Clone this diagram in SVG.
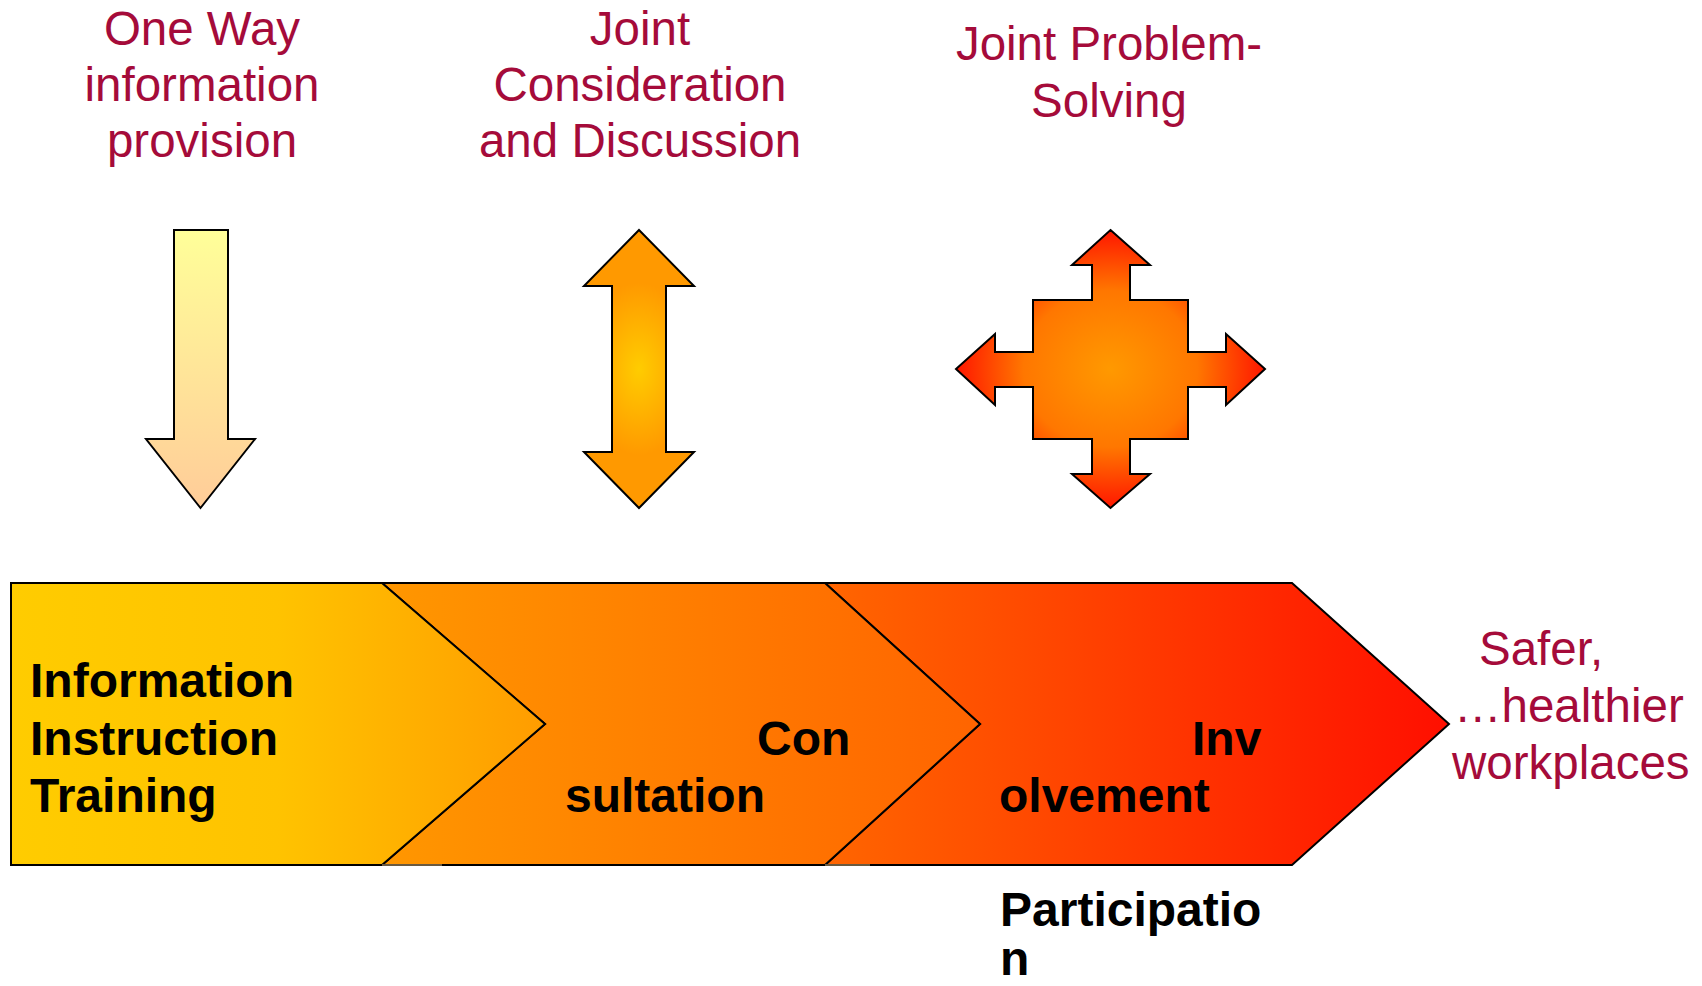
<svg xmlns="http://www.w3.org/2000/svg" width="1702" height="986" viewBox="0 0 1702 986">
  <style>
    .cap { font-family: "Liberation Sans", Arial, sans-serif; font-size: 47.5px; fill: #A50B3A; }
    .band { font-family: "Liberation Sans", Arial, sans-serif; font-size: 48px; font-weight: bold; fill: #000; }
    .shape { stroke: #000; stroke-width: 2; stroke-linejoin: miter; }
    .seam { stroke: #6b5a40; stroke-width: 2; }
  </style>
  <defs>
    <linearGradient id="gDown" x1="0" y1="0" x2="0" y2="1">
      <stop offset="0" stop-color="#FFFF99"/>
      <stop offset="1" stop-color="#FFCC99"/>
    </linearGradient>
    <radialGradient id="gBoth" cx="0.5" cy="0.5" r="0.5" fx="0.5" fy="0.5" gradientTransform="translate(0.5 0.5) scale(1 0.62) translate(-0.5 -0.5)">
      <stop offset="0" stop-color="#FFCC00"/>
      <stop offset="1" stop-color="#FF9900"/>
    </radialGradient>
    <radialGradient id="gCross" cx="1110.5" cy="369" r="158" gradientUnits="userSpaceOnUse" gradientTransform="translate(1110.5 369) scale(1 0.9) translate(-1110.5 -369)">
      <stop offset="0" stop-color="#FF9900"/>
      <stop offset="0.55" stop-color="#FF7700"/>
      <stop offset="1" stop-color="#FF1100"/>
    </radialGradient>
    <linearGradient id="gStep1" x1="11" y1="0" x2="545" y2="0" gradientUnits="userSpaceOnUse">
      <stop offset="0" stop-color="#FFCC00"/>
      <stop offset="0.5" stop-color="#FFC300"/>
      <stop offset="1" stop-color="#FF9C00"/>
    </linearGradient>
    <linearGradient id="gStep2" x1="382" y1="0" x2="980" y2="0" gradientUnits="userSpaceOnUse">
      <stop offset="0" stop-color="#FF9700"/>
      <stop offset="1" stop-color="#FF6400"/>
    </linearGradient>
    <linearGradient id="gStep3" x1="825" y1="0" x2="1449" y2="0" gradientUnits="userSpaceOnUse">
      <stop offset="0" stop-color="#FF6600"/>
      <stop offset="1" stop-color="#FF0F00"/>
    </linearGradient>
  </defs>

  <!-- headings above the arrows -->
  <g id="label-one-way">
    <text class="cap" text-anchor="middle" x="202" y="45">One Way</text>
    <text class="cap" text-anchor="middle" x="202" y="101">information</text>
    <text class="cap" text-anchor="middle" x="202" y="157">provision</text>
  </g>
  <g id="label-joint-consideration">
    <text class="cap" text-anchor="middle" x="640" y="45">Joint</text>
    <text class="cap" text-anchor="middle" x="640" y="101">Consideration</text>
    <text class="cap" text-anchor="middle" x="640" y="157">and Discussion</text>
  </g>
  <g id="label-joint-problem">
    <text class="cap" text-anchor="middle" x="1109" y="60">Joint Problem-</text>
    <text class="cap" text-anchor="middle" x="1109" y="117">Solving</text>
  </g>

  <!-- one-way arrow -->
  <g id="arrow-down">
    <polygon class="shape" fill="url(#gDown)" points="174,230 228,230 228,439 255,439 200.5,508 146,439 174,439"/>
  </g>

  <!-- two-way arrow -->
  <g id="arrow-updown">
    <polygon class="shape" fill="url(#gBoth)" points="639,230 694,286 666,286 666,452 694,452 639,508 584,452 612,452 612,286 584,286"/>
  </g>

  <!-- four-way arrow -->
  <g id="arrow-cross">
    <polygon class="shape" fill="url(#gCross)" points="1110.5,230 1150,265 1130,265 1130,300 1188,300 1188,352 1226,352 1226,334 1265,369 1226,405 1226,387 1188,387 1188,439 1130,439 1130,474 1150,474 1110.5,508 1072,474 1092,474 1092,439 1033,439 1033,387 995,387 995,405 956,369 995,334 995,352 1033,352 1033,300 1092,300 1092,265 1072,265"/>
  </g>

  <!-- stepped band -->
  <g id="step-involvement">
    <polygon class="shape" fill="url(#gStep3)" points="825,583 1292,583 1449,724 1292,865 825,865 980,724"/>
    <text class="band" x="1192" y="755">Inv</text>
    <text class="band" x="999" y="812">olvement</text>
  </g>
  <g id="step-consultation">
    <polygon class="shape" fill="url(#gStep2)" points="382,583 825,583 980,724 825,865 382,865 545,724"/>
    <line class="seam" x1="825" y1="865" x2="870" y2="865"/>
    <text class="band" x="757" y="755">Con</text>
    <text class="band" x="565" y="812">sultation</text>
  </g>
  <g id="step-information">
    <polygon class="shape" fill="url(#gStep1)" points="11,583 382,583 545,724 382,865 11,865"/>
    <line class="seam" x1="382" y1="865" x2="442" y2="865"/>
    <text class="band" x="30" y="697">Information</text>
    <text class="band" x="30" y="755">Instruction</text>
    <text class="band" x="30" y="812">Training</text>
  </g>

  <g id="label-participation">
    <text class="band" x="1000" y="926">Participatio</text>
    <text class="band" x="1000" y="975">n</text>
  </g>

  <g id="label-outcome">
    <text class="cap" x="1479" y="665">Safer,</text>
    <text class="cap" x="1454" y="722">…healthier</text>
    <text class="cap" x="1452" y="779">workplaces</text>
  </g>

  <!-- no connectors: the arrows are stand-alone shapes -->
  <g id="connectors"/>
</svg>
